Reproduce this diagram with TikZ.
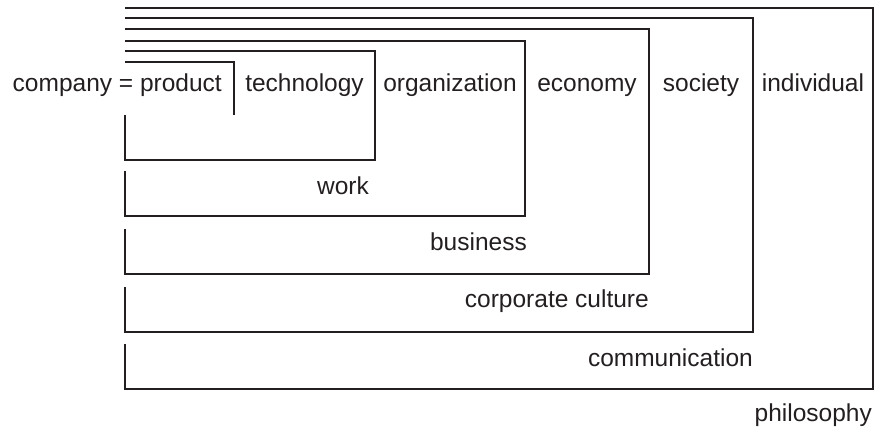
\documentclass[tikz,border=0pt]{standalone}
\usepackage{fontspec}
\setmainfont{Liberation Sans}
\definecolor{ink}{RGB}{35,31,32}
\tikzset{
  frame/.style={draw=ink, line width=2.6pt, line join=miter},
  lbl/.style={inner sep=0pt, anchor=base, text=ink, font=\fontsize{24.5}{29}\selectfont},
  lblr/.style={lbl, anchor=base east}
}
\begin{document}
\begin{tikzpicture}  % ------ nested frames of the company -------------------
      [x=1pt, y=-1pt]
    \useasboundingbox (0,0) rectangle (877,428);
    \draw [frame] (125,62) -- (234,62) -- (234,115) ;  % product
    \draw [frame] (125,51) -- (375,51) -- (375,160) -- (125,160) -- (125,115) ;
    \draw [frame] (125,41) -- (525,41) -- (525,216) -- (125,216) -- (125,171) ;
    \draw [frame] (125,29) -- (649,29) -- (649,274) -- (125,274) -- (125,229) ;
    \draw [frame] (125,18) -- (753,18) -- (753,332) -- (125,332) -- (125,287) ;
    \draw [frame] (125,8) -- (873,8) -- (873,389) -- (125,389) -- (125,344) ;
    % top row
    \node [lblr] (product) at (222,91) {company = product} ;
    \node [lbl] (technology) at (304.5,91) {technology} ;
    \node [lbl] (organization) at (450,91) {organization} ;
    \node [lbl] (economy) at (587,91) {economy} ;
    \node [lbl] (society) at (701,91) {society} ;
    \node [lbl] (individual) at (813,91) {individual} ;
    % bottom labels
    \node [lblr] (work) at (369,194) {work} ;
    \node [lblr] (business) at (527,250) {business} ;
    \node [lblr] (culture) at (649,307) {corporate culture} ;
    \node [lblr] (communication) at (753,366) {communication} ;
    \node [lblr] (philosophy) at (872,421) {philosophy} ;
\end{tikzpicture}
\end{document}
